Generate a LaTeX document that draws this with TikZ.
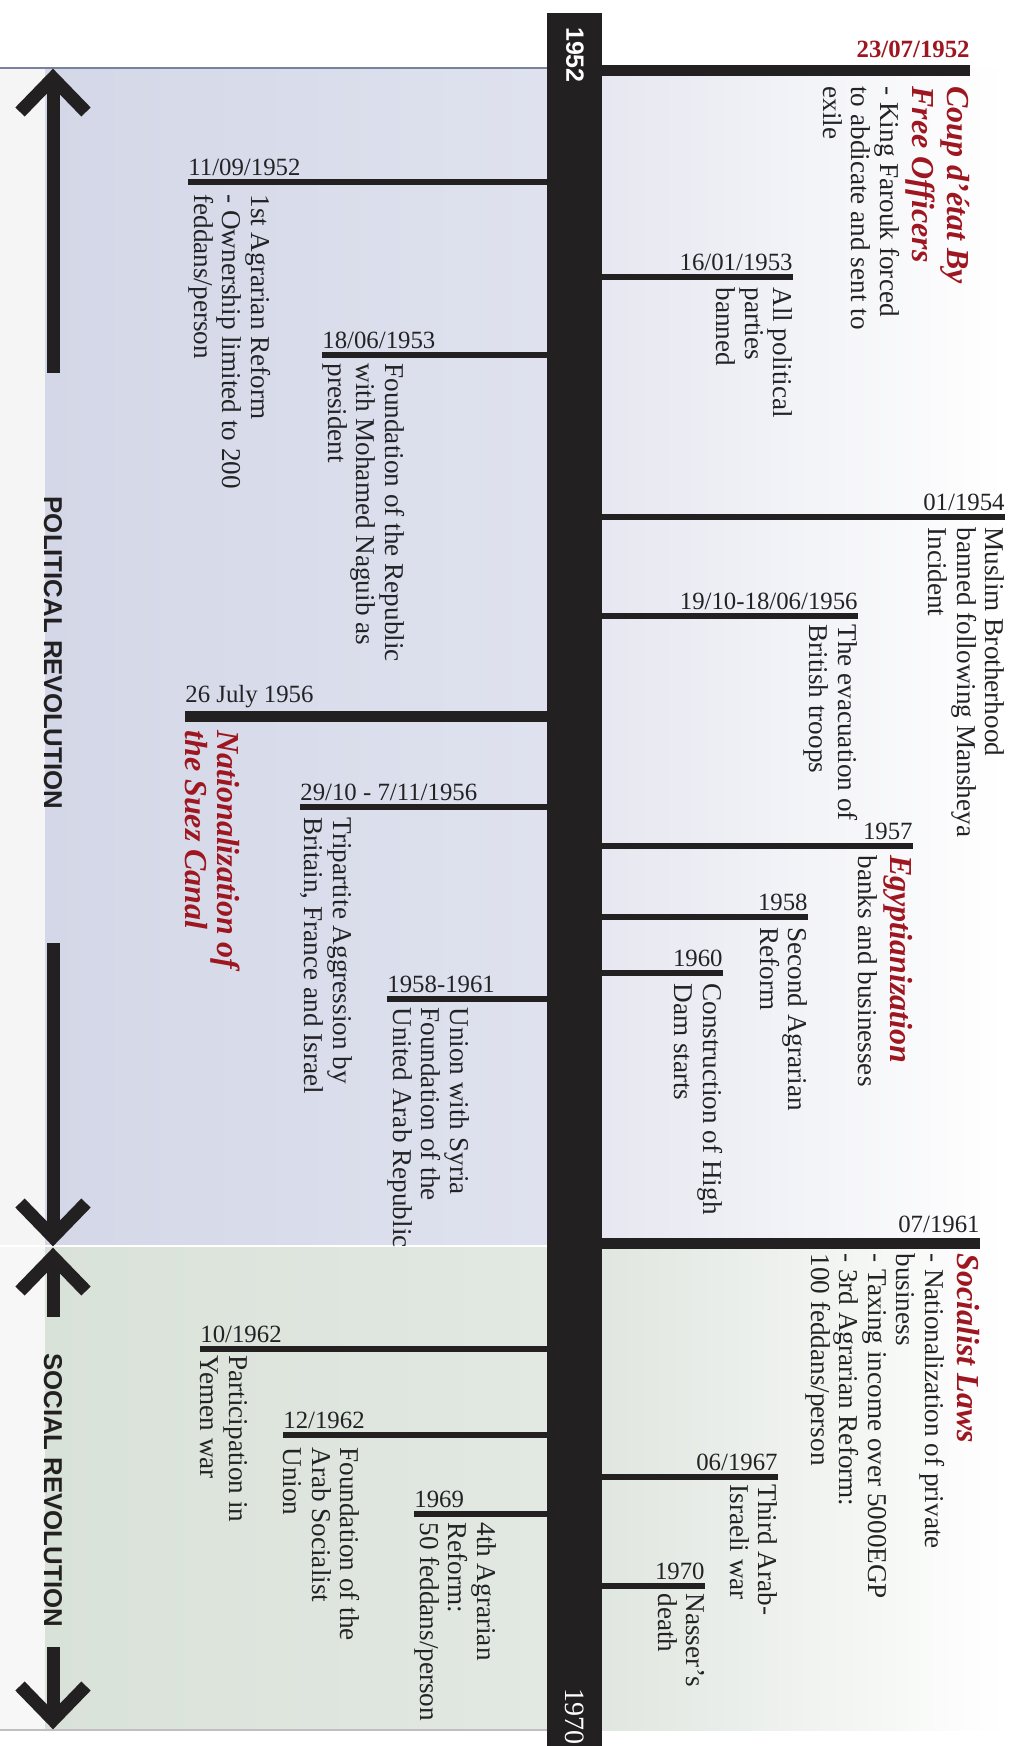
\documentclass[tikz,border=0pt]{standalone}
\usepackage{fontspec}
\setmainfont{Liberation Serif}
\setsansfont{Liberation Sans}
\usepackage{tikz}

\definecolor{barcol}{RGB}{35,32,33}
\definecolor{inkcol}{RGB}{35,35,38}
\definecolor{headred}{RGB}{158,22,32}
\definecolor{polblue}{RGB}{211,215,231}
\definecolor{polblueR}{RGB}{223,226,238}
\definecolor{socgreen}{RGB}{217,226,217}
\definecolor{socgreenR}{RGB}{226,232,226}
\definecolor{polside}{RGB}{230,231,240}
\definecolor{socside}{RGB}{224,230,224}
\definecolor{edgeblue}{RGB}{120,130,158}

\newcommand{\bodyfont}{\fontsize{13.6}{14.25}\selectfont}
\newcommand{\datefont}{\fontsize{12.4}{14}\selectfont}
\newcommand{\headfont}{\fontsize{16}{16}\selectfont\bfseries\itshape\color{headred}}
\newcommand{\revfont}{\fontsize{12.9}{15}\selectfont\sffamily\bfseries}

\begin{document}
\begin{tikzpicture}[
    x=0.5pt, y=-0.5pt,
    branch/.style={draw=barcol, line width=3pt},
    mainbranch/.style={draw=barcol, line width=5.5pt},
    datelbl/.style={font=\datefont, text=inkcol, inner sep=0pt},
    rdate/.style={datelbl, anchor=base east},
    ldate/.style={datelbl, anchor=base west},
    evtext/.style={rotate=-90, align=left, inner sep=0pt,
                   font=\bodyfont, text=inkcol},
    rtext/.style={evtext, anchor=north west},
    ltext/.style={evtext, anchor=south west},
    yearlbl/.style={rotate=-90, text=white,
                    font=\fontsize{12.5}{15}\selectfont\sffamily\bfseries},
    revlbl/.style={rotate=-90, font=\revfont, text=barcol, inner sep=0pt},
    revline/.style={draw=barcol, line width=6.5pt},
    chevron/.style={draw=barcol, line width=6.5pt, line join=miter}
  ]

  \useasboundingbox (0,0) rectangle (1013,1746);
  \clip (0,0) rectangle (1013,1746);
  \fill[white] (0,0) rectangle (1013,1746);

  % Background bands: political (blue) and social (green).
  \fill[black!4] (0,68) rectangle (45,1246);
  \fill[black!3] (0,1246) rectangle (45,1730);
  \shade[left color=polblue, right color=polblueR] (45,68) rectangle (547,1246);
  \shade[left color=socgreen, right color=socgreenR] (45,1246) rectangle (547,1730);
  \shade[left color=polside, right color=white] (602,68) rectangle (1005,1246);
  \shade[left color=socside, right color=white] (602,1246) rectangle (1005,1730);
  \draw[edgeblue, line width=0.8pt] (0,68) -- (547,68);
  \draw[white, line width=1pt] (0,1246) -- (547,1246);
  \draw[gray!50, line width=0.6pt] (0,1730) -- (547,1730);

  % The time axis.
  \node[fill=barcol, minimum width=27.5pt, minimum height=880pt,
        inner sep=0pt, anchor=north] (axis) at (574.5,13) {};
  \node[yearlbl] (y52) at (575,55) {1952};
  \node[rotate=-90, anchor=west, text=white, inner sep=0pt,
        font=\fontsize{14}{16}\selectfont] (y70) at (575,1688) {1970};

  % Events on the right of the axis.
  \coordinate (r1) at (970,70);
  \draw[mainbranch] (axis.east |- r1) -- (r1);
  \node[rdate, text=headred, font=\datefont\bfseries] (r1d) at ([yshift=6.5pt]r1) {23/07/1952};
  \node[rtext] (r1t) at ([yshift=-8pt]r1)
    {{\headfont Coup d’état By}\\[1.75pt]{\headfont Free Officers}\\[1.75pt]%
     - King Farouk forced\\to abdicate and sent to\\exile};

  \coordinate (r2) at (793,277);
  \draw[branch] (axis.east |- r2) -- (r2);
  \node[rdate] (r2d) at ([yshift=3.5pt]r2) {16/01/1953};
  \node[rtext] (r2t) at ([yshift=-5pt]r2) {All political\\parties\\banned};

  \coordinate (r3) at (1005,517);
  \draw[branch] (axis.east |- r3) -- (r3);
  \node[rdate] (r3d) at ([yshift=3.5pt]r3) {01/1954};
  \node[rtext] (r3t) at ([yshift=-5pt]r3)
    {Muslim Brotherhood\\banned following Mansheya\\Incident};

  \coordinate (r4) at (858,616);
  \draw[branch] (axis.east |- r4) -- (r4);
  \node[rdate] (r4d) at ([yshift=3.5pt]r4) {19/10-18/06/1956};
  \node[rtext] (r4t) at ([yshift=-4pt]r4) {The evacuation of\\British troops};

  \coordinate (r5) at (913,846);
  \draw[branch] (axis.east |- r5) -- (r5);
  \node[rdate] (r5d) at ([yshift=3.5pt]r5) {1957};
  \node[rtext] (r5t) at ([yshift=-4.5pt]r5)
    {{\headfont Egyptianization}\\[1.75pt]banks and businesses};

  \coordinate (r6) at (808,917);
  \draw[branch] (axis.east |- r6) -- (r6);
  \node[rdate] (r6d) at ([yshift=3.5pt]r6) {1958};
  \node[rtext] (r6t) at ([yshift=-5pt]r6) {Second Agrarian\\Reform};

  \coordinate (r7) at (723,973);
  \draw[branch] (axis.east |- r7) -- (r7);
  \node[rdate] (r7d) at ([yshift=3.5pt]r7) {1960};
  \node[rtext] (r7t) at ([yshift=-5pt]r7) {Construction of High\\Dam starts};

  \coordinate (r8) at (980,1243);
  \draw[mainbranch] (axis.east |- r8) -- (r8);
  \node[rdate] (r8d) at ([yshift=5.5pt]r8) {07/1961};
  \node[rtext] (r8t) at ([yshift=-5pt]r8)
    {{\headfont Socialist Laws}\\[1.75pt]- Nationalization of private\\business\\%
     - Taxing income over 5000EGP\\- 3rd Agrarian Reform:\\100 feddans/person};

  \coordinate (r9) at (778,1477);
  \draw[branch] (axis.east |- r9) -- (r9);
  \node[rdate] (r9d) at ([yshift=3.5pt]r9) {06/1967};
  \node[rtext] (r9t) at ([yshift=-3.5pt]r9) {Third Arab-\\Israeli war};

  \coordinate (r10) at (705,1586);
  \draw[branch] (axis.east |- r10) -- (r10);
  \node[rdate] (r10d) at ([yshift=3.5pt]r10) {1970};
  \node[rtext] (r10t) at ([yshift=-3.5pt]r10) {Nasser’s\\death};

  % Events on the left of the axis.
  \coordinate (l1) at (188,182);
  \draw[branch] (l1) -- (axis.west |- l1);
  \node[ldate] (l1d) at ([yshift=3.5pt]l1) {11/09/1952};
  \node[ltext] (l1t) at ([yshift=-6pt]l1)
    {1st Agrarian Reform\\- Ownership limited to 200\\feddans/person};

  \coordinate (l2) at (322,355);
  \draw[branch] (l2) -- (axis.west |- l2);
  \node[ldate] (l2d) at ([yshift=3.5pt]l2) {18/06/1953};
  \node[ltext] (l2t) at ([yshift=-4pt]l2)
    {Foundation of the Republic\\with Mohamed Naguib as\\president};

  \coordinate (l3) at (185,716);
  \draw[mainbranch] (l3) -- (axis.west |- l3);
  \node[ldate] (l3d) at ([yshift=7pt]l3) {26 July 1956};
  \node[ltext, font=\headfont, text=headred] (l3t) at ([yshift=-7pt]l3)
    {Nationalization of\\the Suez Canal};

  \coordinate (l4) at (300,807);
  \draw[branch] (l4) -- (axis.west |- l4);
  \node[ldate] (l4d) at ([yshift=3.5pt]l4) {29/10 - 7/11/1956};
  \node[ltext] (l4t) at ([yshift=-5pt]l4)
    {Tripartite Aggression by\\Britain, France and Israel};

  \coordinate (l5) at (387,999);
  \draw[branch] (l5) -- (axis.west |- l5);
  \node[ldate] (l5d) at ([yshift=3.5pt]l5) {1958-1961};
  \node[ltext] (l5t) at ([yshift=-4pt]l5)
    {Union with Syria\\Foundation of the\\United Arab Republic};

  \coordinate (l6) at (200,1349);
  \draw[branch] (l6) -- (axis.west |- l6);
  \node[ldate] (l6d) at ([yshift=3.5pt]l6) {10/1962};
  \node[ltext] (l6t) at ([yshift=-3pt]l6) {Participation in\\Yemen war};

  \coordinate (l7) at (283,1435);
  \draw[branch] (l7) -- (axis.west |- l7);
  \node[ldate] (l7d) at ([yshift=3.5pt]l7) {12/1962};
  \node[ltext] (l7t) at ([yshift=-6pt]l7)
    {Foundation of the\\Arab Socialist\\Union};

  \coordinate (l8) at (414,1514);
  \draw[branch] (l8) -- (axis.west |- l8);
  \node[ldate] (l8d) at ([yshift=3.5pt]l8) {1969};
  \node[ltext] (l8t) at ([yshift=-4pt]l8)
    {4th Agrarian\\Reform:\\50 feddans/person};

  % Period arrows on the far left.
  \node[revlbl] (polrev) at (53,653) {POLITICAL REVOLUTION};
  \node[revlbl] (socrev) at (53,1490) {SOCIAL REVOLUTION};
  \coordinate (polTop) at (53,78);
  \coordinate (polA) at (53,373);
  \coordinate (polB) at (53,943);
  \coordinate (polEnd) at (53,1237);
  \coordinate (socTop) at (53,1257);
  \coordinate (socA) at (53,1317);
  \coordinate (socB) at (53,1647);
  \coordinate (socEnd) at (53,1720);
  \draw[revline] (polTop) -- (polA);
  \draw[revline] (polB) -- (polEnd);
  \draw[revline] (socTop) -- (socA);
  \draw[revline] (socB) -- (socEnd);
  \draw[chevron] (20,112) -- (polTop) -- (86,112);
  \draw[chevron] (20,1203) -- (polEnd) -- (86,1203);
  \draw[chevron] (20,1291) -- (socTop) -- (86,1291);
  \draw[chevron] (20,1686) -- (socEnd) -- (86,1686);

\end{tikzpicture}
\end{document}
